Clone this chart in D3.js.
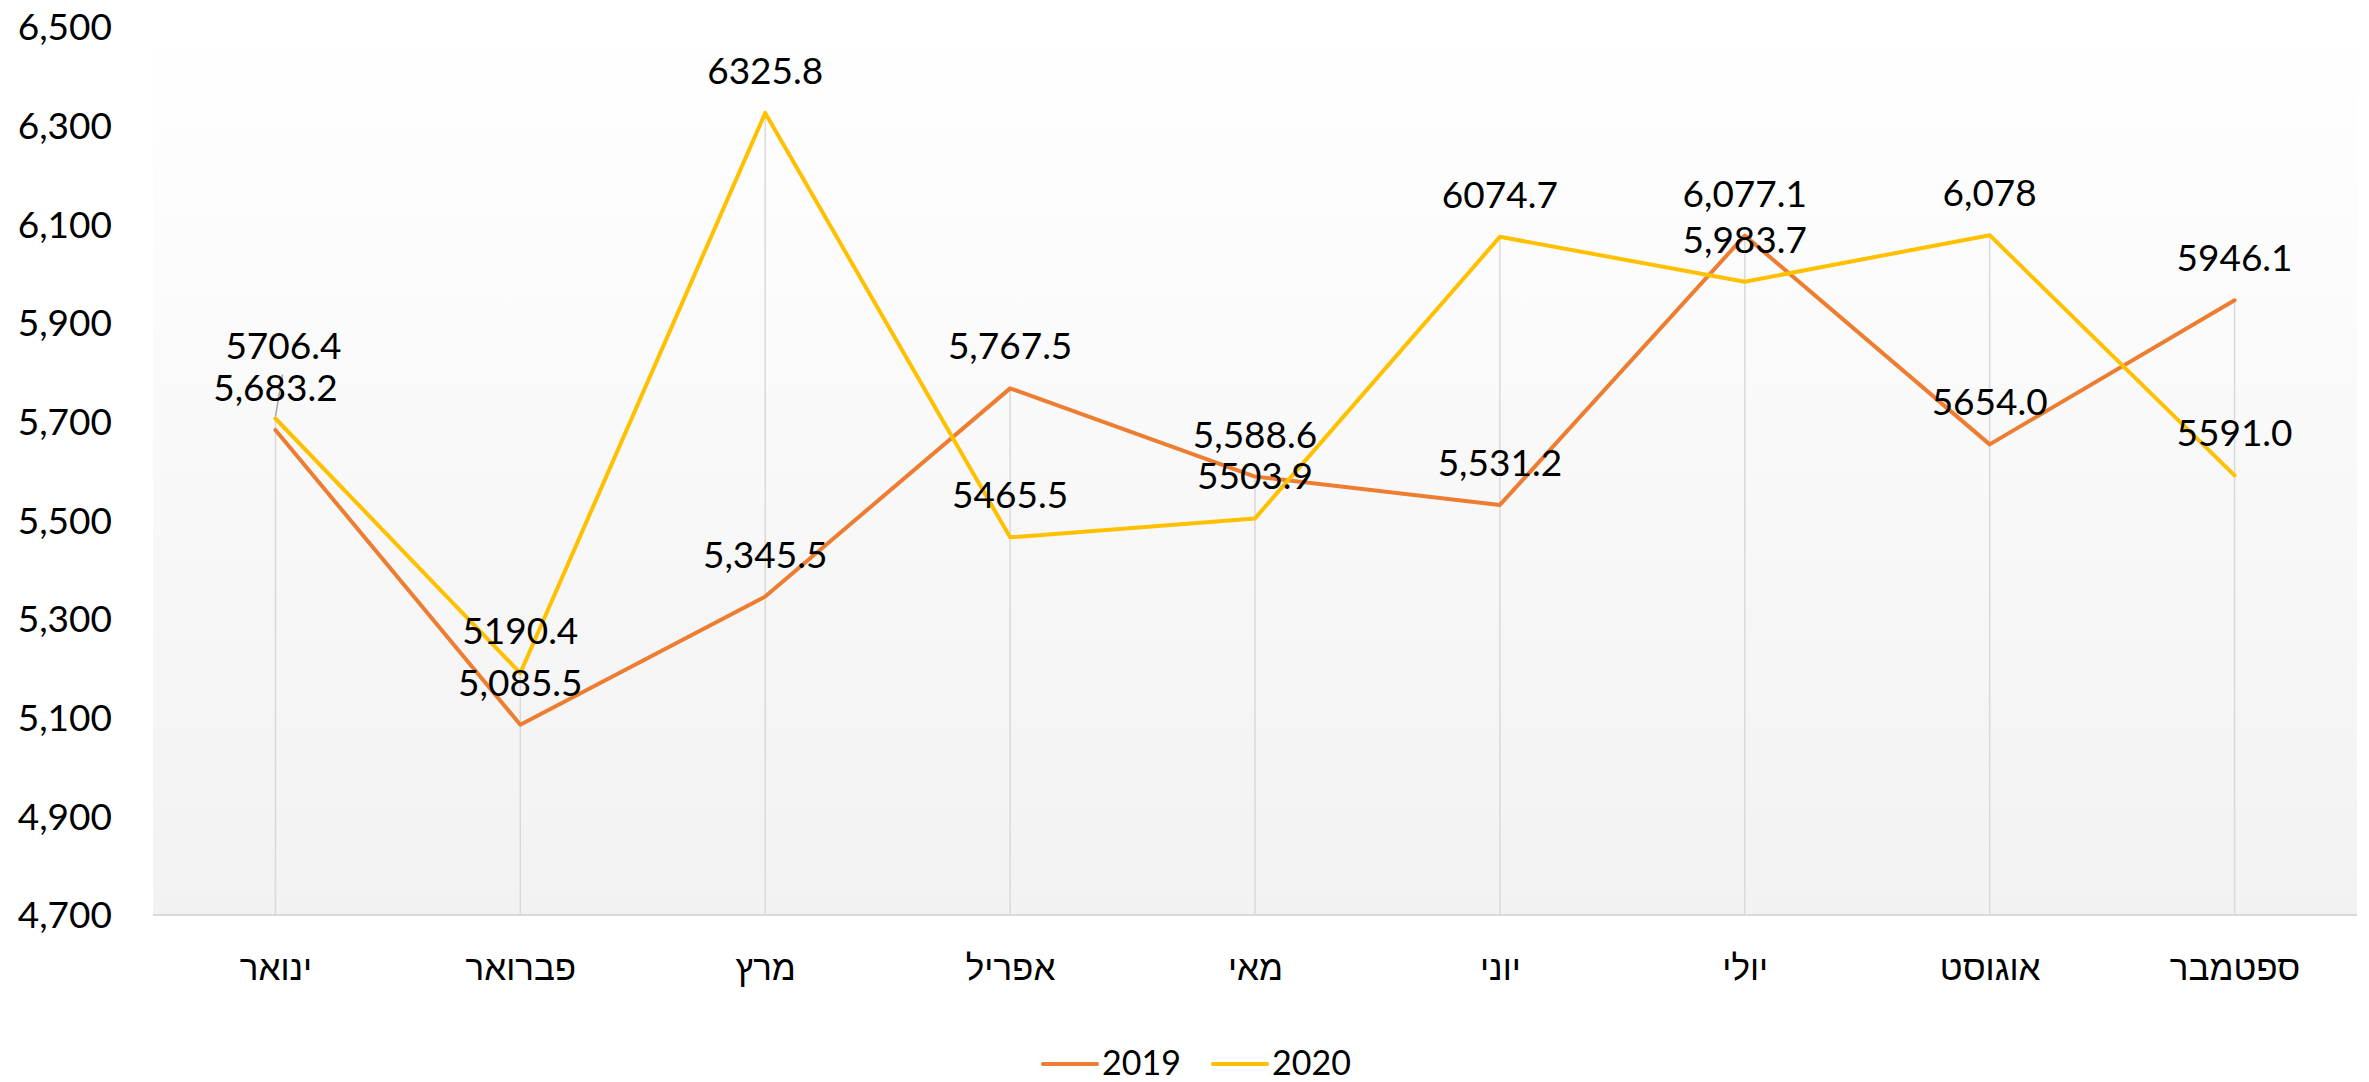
<!DOCTYPE html>
<html>
<head>
<meta charset="utf-8">
<script src="https://cdn.jsdelivr.net/npm/d3@7"></script>
<style>
  html, body { margin: 0; padding: 0; background: #ffffff; }
  svg { display: block; }
  text { font-family: Lato, "Liberation Sans", "DejaVu Sans", sans-serif; fill: #000; }
</style>
</head>
<body>
<svg id="chart" width="2369" height="1082"></svg>
<script>
// ---- data ----
const months = ["ינואר", "פברואר", "מרץ", "אפריל", "מאי", "יוני", "יולי", "אוגוסט", "ספטמבר"];
const seriesNames = ["2019", "2020"];
const values2019 = [5683.2, 5085.5, 5345.5, 5767.5, 5588.6, 5531.2, 6077.1, 5654.0, 5946.1];
const values2020 = [5706.4, 5190.4, 6325.8, 5465.5, 5503.9, 6074.7, 5983.7, 6078, 5591.0];
const labels2019 = ["5,683.2", "5,085.5", "5,345.5", "5,767.5", "5,588.6", "5,531.2", "6,077.1", "5654.0", "5946.1"];
const labels2020 = ["5706.4", "5190.4", "6325.8", "5465.5", "5503.9", "6074.7", "5,983.7", "6,078", "5591.0"];
const yTicks = [4700, 4900, 5100, 5300, 5500, 5700, 5900, 6100, 6300, 6500];

// ---- layout / style ----
const W = 2369, H = 1082;
const plot = { left: 153, right: 2357, top: 27, bottom: 915 };
const colors = ["#ED7D31", "#FFC000"];
const fontSize = 37;
const labelGap = 29;               // baseline distance above the point
// manual nudges for individual data labels [series][index] -> [dx, dy]
const labelNudges = [
  {},
  { 0: [8, -31] }
];

const svg = d3.select("#chart");

// background gradient for plot area
const defs = svg.append("defs");
const grad = defs.append("linearGradient")
  .attr("id", "bg").attr("x1", 0).attr("y1", 0).attr("x2", 0).attr("y2", 1);
grad.append("stop").attr("offset", "0%").attr("stop-color", "#ffffff");
grad.append("stop").attr("offset", "100%").attr("stop-color", "#f2f2f2");

svg.append("rect")
  .attr("x", plot.left).attr("y", plot.top)
  .attr("width", plot.right - plot.left).attr("height", plot.bottom - plot.top)
  .attr("fill", "url(#bg)");

const x = d3.scalePoint().domain(months).range([plot.left, plot.right]).padding(0.5);
const y = d3.scaleLinear().domain([4700, 6500]).range([plot.bottom, plot.top]);

const series = [
  { name: seriesNames[0], values: values2019, labels: labels2019, color: colors[0] },
  { name: seriesNames[1], values: values2020, labels: labels2020, color: colors[1] }
];

// drop lines (from highest point to axis)
svg.append("g").selectAll("line")
  .data(months)
  .join("line")
  .attr("x1", d => x(d)).attr("x2", d => x(d))
  .attr("y1", (d, i) => y(Math.max(values2019[i], values2020[i])))
  .attr("y2", plot.bottom)
  .attr("stroke", "#d9d9d9").attr("stroke-width", 1.5);

// bottom axis line
svg.append("line")
  .attr("x1", plot.left).attr("x2", plot.right)
  .attr("y1", plot.bottom).attr("y2", plot.bottom)
  .attr("stroke", "#d9d9d9").attr("stroke-width", 2);

// y axis
const yAxis = svg.append("g")
  .attr("transform", `translate(112,0)`)
  .call(d3.axisLeft(y).tickValues(yTicks).tickFormat(d3.format(",")).tickSize(0).tickPadding(0));
yAxis.select(".domain").remove();
yAxis.selectAll("text")
  .attr("font-size", fontSize)
  .attr("font-family", 'Lato, "Liberation Sans", sans-serif')
  .attr("fill", "#000")
  .attr("dy", "0.35em");

// x axis
const xAxis = svg.append("g")
  .attr("transform", `translate(0,${plot.bottom})`)
  .call(d3.axisBottom(x).tickSize(0).tickPadding(0));
xAxis.select(".domain").remove();
xAxis.selectAll("text")
  .attr("font-size", 35)
  .attr("font-family", '"Liberation Sans", "DejaVu Sans", sans-serif')
  .attr("fill", "#000")
  .attr("y", 65)
  .attr("dy", 0);

// lines
const line = d3.line().x((d, i) => x(months[i])).y(d => y(d));
svg.append("g").selectAll("path")
  .data(series)
  .join("path")
  .attr("d", s => line(s.values))
  .attr("fill", "none")
  .attr("stroke", s => s.color)
  .attr("stroke-width", 4)
  .attr("stroke-linejoin", "round")
  .attr("stroke-linecap", "round");

// leader lines for nudged labels
series.forEach((s, si) => {
  Object.entries(labelNudges[si]).forEach(([idx, nd]) => {
    const i = +idx;
    const px = x(months[i]), py = y(s.values[i]);
    const lx = px + nd[0], ly = py - labelGap + nd[1];
    svg.append("line")
      .attr("x1", lx - 1).attr("y1", ly + 16)
      .attr("x2", px).attr("y2", py - 2)
      .attr("stroke", "#a6a6a6").attr("stroke-width", 1.5);
  });
});

// data labels
series.forEach((s, si) => {
  svg.append("g").selectAll("text")
    .data(s.values)
    .join("text")
    .attr("x", (d, i) => x(months[i]) + ((labelNudges[si][i] || [0, 0])[0]))
    .attr("y", (d, i) => y(d) - labelGap + ((labelNudges[si][i] || [0, 0])[1]))
    .attr("text-anchor", "middle")
    .attr("font-size", fontSize)
    .text((d, i) => s.labels[i]);
});

// legend
const legend = svg.append("g");
const legendItems = [
  { name: seriesNames[0], color: colors[0], x0: 1043 },
  { name: seriesNames[1], color: colors[1], x0: 1213 }
];
legendItems.forEach(it => {
  legend.append("line")
    .attr("x1", it.x0).attr("x2", it.x0 + 54)
    .attr("y1", 1064).attr("y2", 1064)
    .attr("stroke", it.color).attr("stroke-width", 4).attr("stroke-linecap", "round");
  legend.append("text")
    .attr("x", it.x0 + 59).attr("y", 1075)
    .attr("font-size", 34)
    .text(it.name);
});
</script>
</body>
</html>
